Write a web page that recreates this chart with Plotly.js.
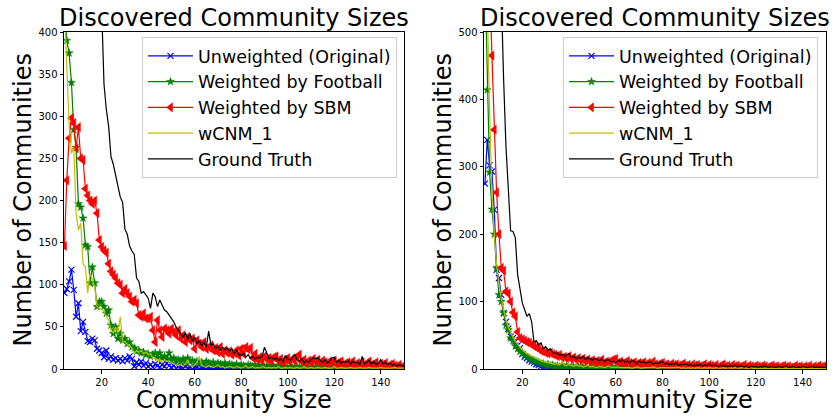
<!DOCTYPE html>
<html>
<head>
<meta charset="utf-8">
<script src="https://cdn.plot.ly/plotly-3.0.1.min.js"></script>
<style>
html, body { margin: 0; padding: 0; background: #ffffff; }
#chart { width: 837px; height: 418px; }
</style>
</head>
<body>
<div id="chart"></div>
<script>
// Community sizes 4..150 (one point per integer size)
const firstSize = 4;
const lastSize = 150;
const communitySizes = [];
for (let s = firstSize; s <= lastSize; s++) communitySizes.push(s);

const seriesNames = ["Unweighted (Original)", "Weighted by Football", "Weighted by SBM", "wCNM_1", "Ground Truth"];
const xTicks = [20, 40, 60, 80, 100, 120, 140];
const leftYTicks = [0, 50, 100, 150, 200, 250, 300, 350, 400];
const rightYTicks = [0, 100, 200, 300, 400, 500];
const chartTitle = "Discovered Community Sizes";
const xTitle = "Community Size";
const yTitle = "Number of Communities";

// ---------- Left panel ----------
const leftUnweighted = [
  90, 95, 104, 118, 94, 62, 78, 45, 56, 44,
  33, 32, 36, 34, 24, 22, 19, 14, 22, 12,
  15, 11, 13, 10, 12, 9, 13, 10, 15, 12,
  3, 8, 5, 9, 4, 7, 3, 5, 2, 6,
  4, 2, 5, 3, 7, 4, 2, 4, 1, 3,
  2, 1, 3, 1, 2, 0, 1, 2, 0, 1,
  1, 0, 1, 0, 0, 1, 0, 0, 1, 0,
  0, 0, 1, 0, 0, 0, 1, 0, 0, 0,
  0, 1, 0, 0, 0, 0, 0, 1, 0, 0,
  0, 0, 0, 0, 1, 0, 0, 0, 0, 0,
  0, 0, 1, 0, 0, 0, 0, 0, 0, 0,
  0, 0, 0, 0, 0, 1, 0, 0, 0, 0,
  0, 0, 0, 0, 0, 0, 0, 0, 1, 0,
  0, 0, 0, 0, 0, 0, 0, 0, 0, 0,
  0, 0, 0, 0, 0, 0, 0
];
const leftFootball = [
  430, 390, 375, 340, 284, 263, 196, 192, 179, 147,
  145, 102, 121, 102, 74, 80, 80, 74, 66, 70,
  52, 42, 50, 36, 42, 34, 36, 30, 32, 26,
  25, 21, 22, 19, 20, 17, 18, 15, 17, 19,
  14, 19, 13, 15, 12, 19, 11, 13, 10, 11,
  9, 12, 8, 13, 9, 10, 8, 9, 7, 8,
  6, 9, 7, 6, 8, 5, 7, 6, 5, 7,
  4, 6, 5, 4, 6, 3, 5, 4, 3, 5,
  4, 3, 5, 2, 4, 3, 2, 4, 3, 2,
  3, 2, 4, 1, 3, 2, 2, 3, 1, 2,
  3, 2, 1, 3, 2, 1, 2, 3, 1, 2,
  1, 2, 3, 1, 2, 1, 2, 1, 3, 1,
  2, 1, 1, 2, 1, 3, 1, 2, 1, 1,
  2, 1, 1, 2, 1, 1, 2, 1, 1, 2,
  1, 1, 2, 1, 1, 1, 2
];
const leftSBM = [
  146, 224, 274, 298, 292, 262, 287, 250, 248, 214,
  206, 200, 196, 200, 185, 153, 145, 141, 138, 125,
  116, 112, 108, 102, 100, 90, 95, 90, 86, 80,
  82, 78, 64, 62, 66, 60, 60, 62, 46, 32,
  58, 46, 38, 48, 46, 42, 48, 44, 40, 46,
  36, 40, 32, 38, 34, 36, 24, 34, 30, 26,
  32, 24, 26, 28, 22, 25, 20, 26, 18, 22,
  19, 21, 17, 19, 22, 16, 24, 18, 26, 23,
  25, 13, 18, 11, 14, 10, 15, 12, 13, 9,
  14, 15, 10, 12, 8, 11, 13, 9, 12, 10,
  15, 17, 9, 11, 7, 10, 8, 12, 9, 11,
  7, 10, 8, 6, 9, 7, 10, 6, 8, 9,
  5, 7, 8, 6, 9, 5, 7, 6, 8, 4,
  7, 9, 5, 6, 8, 4, 6, 5, 7, 3,
  5, 6, 4, 3, 5, 2, 4
];
const leftWCNM = [
  430, 360, 290, 256, 264, 185, 165, 173, 125, 121,
  90, 114, 106, 98, 74, 72, 72, 68, 62, 58,
  46, 43, 50, 43, 62, 33, 32, 30, 28, 25,
  18, 22, 20, 22, 18, 20, 17, 18, 13, 13,
  10, 11, 8, 11, 9, 10, 7, 6, 5, 4,
  5, 3, 6, 11, 4, 3, 5, 8, 15, 4,
  3, 2, 4, 3, 2, 3, 5, 2, 3, 1,
  2, 3, 2, 1, 3, 2, 1, 2, 4, 1,
  2, 3, 1, 2, 1, 3, 2, 1, 2, 1,
  2, 1, 3, 1, 1, 2, 1, 2, 1, 1,
  2, 1, 1, 3, 1, 1, 2, 1, 1, 2,
  1, 1, 2, 1, 1, 1, 3, 1, 1, 2,
  1, 1, 1, 2, 1, 1, 1, 2, 1, 1,
  1, 2, 1, 1, 1, 1, 2, 1, 1, 1,
  1, 1, 2, 1, 1, 1, 1
];
const leftTruth = [
  1650, 1500, 1380, 1250, 1120, 1000, 900, 820, 760, 700,
  650, 600, 560, 520, 490, 460, 428, 338, 308, 288,
  252, 243, 230, 215, 204, 198, 166, 160, 146, 140,
  136, 108, 104, 90, 92, 88, 84, 72, 90, 86,
  74, 82, 76, 70, 68, 64, 60, 56, 50, 46,
  42, 38, 43, 35, 42, 33, 38, 30, 34, 27,
  32, 26, 45, 28, 30, 24, 27, 22, 26, 23,
  25, 21, 24, 18, 22, 17, 16, 19, 14, 17,
  13, 15, 12, 14, 13, 15, 26, 18, 12, 14,
  11, 13, 10, 12, 9, 16, 12, 10, 13, 17,
  11, 9, 13, 7, 10, 8, 11, 13, 12, 13,
  10, 8, 11, 7, 9, 13, 14, 8, 10, 7,
  9, 8, 10, 6, 9, 7, 8, 5, 15, 6,
  8, 10, 6, 9, 5, 7, 11, 6, 8, 5,
  7, 4, 6, 3, 5, 4, 3
];

// ---------- Right panel ----------
const rightUnweighted = [
  275, 340, 302, 293, 236, 147, 135, 110, 83, 70,
  60, 48, 46, 41, 35, 31, 22, 18, 16, 13,
  11, 9, 7, 6, 4, 3, 3, 1, 2, 1,
  0, 1, 0, 1, 0, 0, 1, 0, 0, 0,
  1, 0, 0, 0, 0, 1, 0, 0, 0, 0,
  0, 0, 0, 0, 0, 0, 0, 1, 0, 0,
  0, 0, 0, 0, 0, 0, 0, 0, 0, 0,
  0, 0, 0, 0, 0, 0, 0, 0, 0, 0,
  0, 0, 0, 0, 1, 0, 0, 0, 0, 0,
  0, 0, 0, 0, 0, 0, 0, 0, 0, 0,
  0, 0, 0, 0, 0, 0, 0, 0, 1, 0,
  0, 0, 0, 0, 0, 0, 0, 0, 0, 0,
  0, 0, 0, 0, 0, 0, 0, 0, 0, 0,
  0, 0, 1, 0, 0, 0, 0, 0, 0, 0,
  0, 0, 0, 0, 0, 0, 0
];
const rightFootball = [
  590, 414, 292, 237, 200, 150, 110, 100, 83, 65,
  58, 46, 42, 34, 30, 26, 24, 21, 18, 16,
  14, 13, 11, 10, 8, 8, 6, 7, 5, 6,
  4, 5, 3, 4, 3, 5, 2, 4, 3, 2,
  3, 4, 2, 3, 1, 3, 2, 1, 2, 3,
  1, 2, 1, 2, 3, 1, 2, 1, 1, 2,
  1, 2, 1, 1, 2, 1, 1, 2, 1, 1,
  2, 1, 1, 1, 2, 1, 1, 1, 2, 1,
  1, 1, 2, 1, 1, 1, 1, 2, 1, 1,
  1, 2, 1, 1, 1, 1, 2, 1, 1, 1,
  1, 1, 2, 1, 1, 1, 1, 1, 2, 1,
  1, 1, 1, 2, 1, 1, 1, 1, 1, 2,
  1, 1, 1, 1, 2, 1, 1, 1, 1, 1,
  2, 1, 1, 1, 1, 1, 2, 1, 1, 1,
  1, 1, 1, 2, 1, 1, 1
];
const rightSBM = [
  1100, 800, 580, 465, 355, 262, 200, 150, 146, 115,
  112, 100, 84, 78, 55, 46, 44, 42, 40, 39,
  36, 34, 32, 30, 27, 26, 24, 23, 24, 22,
  21, 19, 21, 17, 18, 16, 19, 15, 17, 14,
  16, 13, 15, 12, 14, 11, 13, 10, 12, 11,
  14, 9, 11, 10, 12, 14, 15, 9, 11, 8,
  10, 12, 9, 8, 10, 7, 9, 8, 10, 7,
  9, 6, 11, 7, 6, 8, 9, 6, 7, 5,
  8, 6, 7, 5, 6, 8, 5, 6, 4, 7,
  5, 6, 4, 5, 7, 4, 6, 5, 4, 6,
  3, 5, 7, 4, 5, 3, 6, 4, 5, 3,
  4, 6, 3, 5, 4, 3, 5, 4, 3, 5,
  4, 2, 4, 5, 3, 4, 2, 4, 5, 3,
  4, 2, 3, 5, 3, 4, 2, 4, 3, 5,
  2, 4, 3, 5, 3, 4, 5
];
const rightWCNM = [
  800, 540, 380, 262, 200, 155, 128, 104, 88, 72,
  62, 54, 47, 41, 36, 32, 28, 25, 23, 21,
  19, 17, 15, 14, 12, 11, 10, 9, 9, 8,
  7, 8, 6, 11, 6, 5, 7, 5, 4, 6,
  4, 5, 3, 4, 6, 3, 4, 3, 2, 4,
  3, 2, 3, 5, 2, 3, 2, 3, 2, 2,
  3, 2, 2, 1, 2, 3, 2, 1, 2, 2,
  1, 2, 3, 2, 1, 2, 2, 1, 2, 1,
  2, 1, 2, 3, 1, 2, 1, 2, 1, 2,
  1, 2, 1, 1, 2, 1, 2, 1, 1, 2,
  1, 1, 2, 1, 2, 1, 1, 2, 1, 1,
  2, 1, 1, 1, 2, 1, 1, 2, 1, 1,
  1, 2, 1, 1, 1, 2, 1, 1, 1, 2,
  1, 1, 2, 1, 1, 1, 1, 2, 1, 1,
  1, 2, 1, 1, 1, 2, 1
];
const rightTruth = [
  3200, 2500, 1900, 1450, 1100, 850, 680, 540, 430, 330,
  260, 205, 204, 195, 140, 117, 98, 88, 78, 82,
  70, 40, 42, 36, 39, 30, 33, 28, 30, 25,
  23, 24, 20, 22, 18, 21, 23, 17, 19, 15,
  18, 16, 19, 14, 17, 15, 13, 16, 14, 12,
  15, 11, 13, 14, 10, 12, 9, 13, 11, 14,
  10, 12, 9, 13, 11, 8, 12, 9, 11, 8,
  10, 11, 7, 9, 8, 10, 11, 7, 9, 6,
  8, 7, 9, 5, 7, 6, 8, 5, 7, 4,
  6, 5, 7, 4, 6, 5, 8, 4, 6, 5,
  3, 6, 4, 5, 3, 5, 4, 6, 3, 5,
  4, 3, 5, 2, 4, 3, 4, 2, 4, 3,
  5, 2, 3, 4, 2, 3, 4, 2, 3, 5,
  2, 3, 4, 2, 3, 2, 4, 3, 2, 3,
  4, 2, 3, 2, 3, 2, 3
];

const leftSeries = [leftUnweighted, leftFootball, leftSBM, leftWCNM, leftTruth];
const rightSeries = [rightUnweighted, rightFootball, rightSBM, rightWCNM, rightTruth];

const styles = [
  { mode: "lines+markers", line: { color: "#0000ff", width: 1.2 },
    marker: { symbol: "x-thin", size: 6, color: "#0000ff", line: { color: "#0000ff", width: 1.2 } } },
  { mode: "lines+markers", line: { color: "#008000", width: 1.2 },
    marker: { symbol: "star", size: 6, color: "#008000", line: { color: "#008000", width: 0.5 } } },
  { mode: "lines+markers", line: { color: "#ff0000", width: 1.2 },
    marker: { symbol: "triangle-left", size: 8, color: "#ff0000", line: { color: "#ff0000", width: 0.5 } } },
  { mode: "lines", line: { color: "#bfbf00", width: 1.2 } },
  { mode: "lines", line: { color: "#000000", width: 1.2 } }
];

const data = [];
leftSeries.forEach((ys, i) => {
  data.push(Object.assign({ type: "scatter", x: communitySizes, y: ys, name: seriesNames[i],
    xaxis: "x", yaxis: "y", legend: "legend", hoverinfo: "skip" }, styles[i]));
});
rightSeries.forEach((ys, i) => {
  data.push(Object.assign({ type: "scatter", x: communitySizes, y: ys, name: seriesNames[i],
    xaxis: "x2", yaxis: "y2", legend: "legend2", hoverinfo: "skip" }, styles[i]));
});

const W = 837, H = 418;
const leftDom = [64 / W, 404 / W];
const rightDom = [484 / W, 826 / W];
const yDom = [(H - 369) / H, (H - 32) / H];
const fontFam = "DejaVu Sans, sans-serif";

const axisBase = {
  showline: true, mirror: true, linecolor: "#000", linewidth: 1,
  ticks: "outside", ticklen: 3.5, tickwidth: 1, tickcolor: "#000",
  showgrid: false, zeroline: false,
  tickfont: { family: fontFam, size: 10, color: "#000" }
};

const legendBase = {
  font: { family: fontFam, size: 17.5, color: "#000" },
  bgcolor: "rgba(255,255,255,0.8)", bordercolor: "#cccccc", borderwidth: 1,
  xanchor: "left", yanchor: "top", y: 1 - 37 / H, itemwidth: 45,
  tracegroupgap: 0
};

const titleFont = { family: fontFam, size: 24, color: "#000" };

const layout = {
  width: W, height: H,
  margin: { l: 0, r: 0, t: 0, b: 0 },
  paper_bgcolor: "#ffffff", plot_bgcolor: "#ffffff",
  showlegend: true,
  xaxis: Object.assign({}, axisBase, { domain: leftDom, range: [3.8, 150], tickvals: xTicks, anchor: "y" }),
  yaxis: Object.assign({}, axisBase, { domain: yDom, range: [0, 400], tickvals: leftYTicks, anchor: "x" }),
  xaxis2: Object.assign({}, axisBase, { domain: rightDom, range: [3.6, 150], tickvals: xTicks, anchor: "y2" }),
  yaxis2: Object.assign({}, axisBase, { domain: yDom, range: [0, 500], tickvals: rightYTicks, anchor: "x2" }),
  legend: Object.assign({}, legendBase, { x: 142 / W }),
  legend2: Object.assign({}, legendBase, { x: 563 / W }),
  annotations: [
    { text: chartTitle, xref: "paper", yref: "paper", x: (leftDom[0] + leftDom[1]) / 2, y: yDom[1], yshift: -2,
      xanchor: "center", yanchor: "bottom", showarrow: false, font: titleFont },
    { text: chartTitle, xref: "paper", yref: "paper", x: (rightDom[0] + rightDom[1]) / 2, y: yDom[1], yshift: -2,
      xanchor: "center", yanchor: "bottom", showarrow: false, font: titleFont },
    { text: xTitle, xref: "paper", yref: "paper", x: (leftDom[0] + leftDom[1]) / 2, y: 1 - 400 / H,
      xanchor: "center", yanchor: "middle", showarrow: false, font: titleFont },
    { text: xTitle, xref: "paper", yref: "paper", x: (rightDom[0] + rightDom[1]) / 2, y: 1 - 400 / H,
      xanchor: "center", yanchor: "middle", showarrow: false, font: titleFont },
    { text: yTitle, xref: "paper", yref: "paper", x: 22 / W, y: (yDom[0] + yDom[1]) / 2, textangle: -90,
      xanchor: "center", yanchor: "middle", showarrow: false, font: titleFont },
    { text: yTitle, xref: "paper", yref: "paper", x: 442 / W, y: (yDom[0] + yDom[1]) / 2, textangle: -90,
      xanchor: "center", yanchor: "middle", showarrow: false, font: titleFont }
  ]
};

Plotly.newPlot("chart", data, layout, { displayModeBar: false, staticPlot: true });
</script>
</body>
</html>
